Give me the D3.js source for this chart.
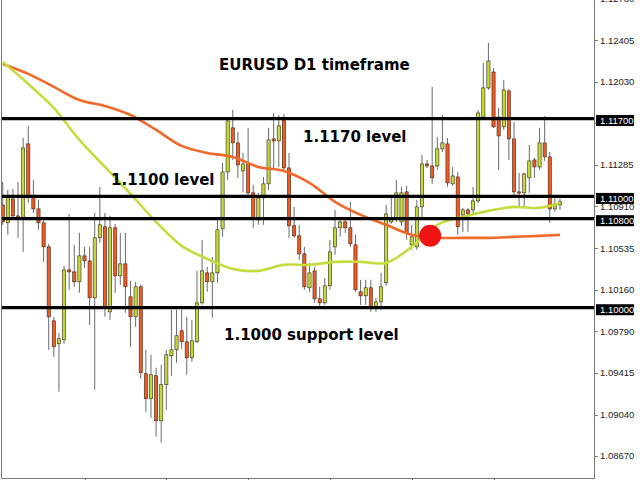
<!DOCTYPE html>
<html><head><meta charset="utf-8">
<script src="https://cdn.jsdelivr.net/npm/d3@7"></script>
<style>html,body{margin:0;padding:0;background:#fff;overflow:hidden}</style>
</head><body>
<svg id="c" width="640" height="480"></svg>
<script>
const openP = [
1.10924,1.10763,1.10978,1.10825,1.10798,1.11472,1.10996,1.10888,1.10763,1.10547,
1.09882,1.09676,1.09712,1.10340,1.10322,1.10233,1.10466,1.10421,1.10089,1.10628,
1.10727,1.09963,1.10718,1.10286,1.10394,1.10098,1.09918,1.10188,1.09407,1.09182,
1.09389,1.08984,1.09308,1.09568,1.09622,1.09793,1.09694,1.09550,1.09694,1.10044,
1.10313,1.10233,1.10313,1.10709,1.11220,1.11616,1.11481,1.11229,1.11292,1.11032,
1.10789,1.10987,1.11113,1.11517,1.11499,1.11687,1.11256,1.10736,1.10646,1.10484,
1.10179,1.10331,1.10080,1.10044,1.10197,1.10547,1.10718,1.10771,1.10718,1.10565,
1.10143,1.10107,1.10179,1.10008,1.10053,1.10224,1.10771,1.10807,1.10771,1.11041,
1.10565,1.10547,1.10906,1.11292,1.11274,1.11274,1.11427,1.11472,1.11113,1.11175,
1.10834,1.10879,1.10879,1.10960,1.11714,1.11975,1.12118,1.11714,1.11625,1.11948,
1.11517,1.11041,1.11032,1.11167,1.11328,1.11265,1.11481,1.11355,1.10888,1.10924];
const highP = [
1.11131,1.11059,1.11068,1.11131,1.11526,1.11634,1.11149,1.10969,1.10789,1.10574,
1.09918,1.09775,1.10376,1.10843,1.10565,1.10673,1.10547,1.10547,1.10852,1.11086,
1.10852,1.10825,1.10754,1.10673,1.10673,1.10242,1.10233,1.10206,1.09622,1.09577,
1.09460,1.09487,1.09622,1.09981,1.09981,1.09981,1.09918,1.09891,1.10331,1.10610,
1.10367,1.10457,1.10789,1.11301,1.11687,1.11777,1.11580,1.11391,1.11616,1.11104,
1.11032,1.11175,1.11616,1.11750,1.11732,1.11741,1.11391,1.10906,1.10745,1.10547,
1.10403,1.10367,1.10188,1.10269,1.10610,1.10879,1.10807,1.10807,1.10951,1.10655,
1.10251,1.10251,1.10251,1.10089,1.10313,1.10924,1.11014,1.11149,1.11086,1.11095,
1.10745,1.10969,1.11373,1.11328,1.11984,1.11535,1.11732,1.11526,1.11265,1.11220,
1.10897,1.10897,1.11086,1.11777,1.12199,1.12379,1.12154,1.11795,1.12047,1.11966,
1.11669,1.11211,1.11211,1.11463,1.11346,1.11616,1.11723,1.11400,1.10996,1.10978];
const lowP = [
1.10745,1.10655,1.10798,1.10628,1.10502,1.10942,1.10852,1.10700,1.10412,1.09622,
1.09559,1.09245,1.09676,1.10161,1.10188,1.10134,1.10358,1.09846,1.09263,1.10583,
1.09918,1.09891,1.10134,1.10206,1.09954,1.09649,1.09828,1.09362,1.09065,1.09011,
1.08841,1.08787,1.09083,1.09389,1.09505,1.09631,1.09398,1.09514,1.09685,1.10026,
1.10143,1.09909,1.10224,1.10637,1.11149,1.11328,1.11167,1.11041,1.10987,1.10718,
1.10745,1.10745,1.11059,1.11238,1.11265,1.11220,1.10628,1.10628,1.10430,1.10161,
1.10143,1.10044,1.09990,1.10026,1.10161,1.10475,1.10637,1.10673,1.10547,1.10143,
1.10026,1.10026,1.09963,1.09963,1.09981,1.10197,1.10754,1.10771,1.10736,1.10610,
1.10520,1.10520,1.10816,1.11256,1.11113,1.11238,1.11400,1.11086,1.11095,1.10655,
1.10682,1.10682,1.10834,1.10942,1.11687,1.11957,1.11616,1.11238,1.11598,1.11328,
1.11014,1.10906,1.10906,1.11032,1.11167,1.11238,1.11319,1.10763,1.10861,1.10879];
const closeP = [
1.10771,1.10996,1.10825,1.10807,1.11436,1.10996,1.10888,1.10763,1.10547,1.09918,
1.09649,1.09721,1.10340,1.10322,1.10233,1.10466,1.10421,1.10089,1.10628,1.10745,
1.09999,1.10718,1.10286,1.10394,1.10188,1.09918,1.10188,1.09416,1.09182,1.09398,
1.08984,1.09308,1.09577,1.09622,1.09748,1.09694,1.09550,1.09703,1.10044,1.10331,
1.10233,1.10313,1.10700,1.11220,1.11678,1.11481,1.11283,1.11292,1.11032,1.10807,
1.10987,1.11113,1.11508,1.11499,1.11634,1.11256,1.10736,1.10646,1.10484,1.10188,
1.10313,1.10080,1.10044,1.10197,1.10502,1.10718,1.10771,1.10718,1.10574,1.10161,
1.10107,1.10179,1.10008,1.10053,1.10188,1.10843,1.10807,1.11032,1.11032,1.10673,
1.10637,1.10906,1.11292,1.11274,1.11167,1.11427,1.11481,1.11122,1.11184,1.10727,
1.10879,1.10843,1.10960,1.11750,1.11975,1.12217,1.11625,1.11544,1.11957,1.11517,
1.11041,1.11032,1.11202,1.11319,1.11265,1.11481,1.11355,1.10888,1.10933,1.10951];

const maIndex = [0,5,10,15,20,25,30,35,40,45,50,55,60,65,70,75,80,85,90,95,100,105,109];
const maSlow = [1.12190,1.12101,1.11984,1.11867,1.11813,1.11732,1.11598,1.11454,1.11391,1.11355,1.11265,1.11229,1.11122,1.10951,1.10834,1.10745,1.10655,1.10628,1.10628,1.10628,1.10637,1.10646,1.10655];
const maFast = [1.12208,1.12011,1.11795,1.11508,1.11265,1.11023,1.10771,1.10556,1.10439,1.10349,1.10331,1.10385,1.10385,1.10412,1.10412,1.10403,1.10547,1.10745,1.10816,1.10870,1.10906,1.10897,1.10942];

const levels = [1.11700, 1.11000, 1.10800, 1.10000];
const tickValues = [1.08670,1.09040,1.09415,1.09790,1.10160,1.10535,1.10910,1.11285,1.11660,1.12030,1.12405,1.12780];
const tickLabels = ["1.08670","1.09040","1.09415","1.09790","1.10160","1.10535","1.10910","1.11285","1.11660","1.12030","1.12405","1.12780"];
const timeTicks = [16,32,48,64,80,96];
const crossIndex = [83.6];
const crossPrice = [1.10646];
const notes = ["EURUSD D1 timeframe","1.1170 level","1.1100 level","1.1000 support level"];

const svg = d3.select('#c');
const L = 2, R = 594, T = 0, B = 478;
const x = d3.scaleLinear().domain([0, 109]).range([2.7, 560]);
const y = d3.scaleLinear().domain([1.08470, 1.12765]).range([B, T]);

svg.append('rect').attr('width',640).attr('height',480).attr('fill','#fff');
svg.append('defs').append('clipPath').attr('id','clip')
  .append('rect').attr('x',L).attr('y',T).attr('width',R-L).attr('height',B-T);
const pg = svg.append('g').attr('clip-path','url(#clip)');

const candles = openP.map((o,i)=>({i,o,h:highP[i],l:lowP[i],c:closeP[i]}));
const GREEN = '#c2d93a', ORANGE = '#f05a22';

pg.selectAll('line.wick').data(candles).join('line').attr('class','wick')
  .attr('x1',d=>x(d.i)).attr('x2',d=>x(d.i))
  .attr('y1',d=>y(d.h)).attr('y2',d=>y(d.l))
  .attr('stroke','#6a6a6a').attr('stroke-width',1);

pg.selectAll('rect.body').data(candles).join('rect').attr('class','body')
  .attr('x',d=>x(d.i)-1.6).attr('width',3.2)
  .attr('y',d=>y(Math.max(d.o,d.c)))
  .attr('height',d=>Math.max(1.2, Math.abs(y(d.o)-y(d.c))))
  .attr('fill',d=>d.c>=d.o?GREEN:ORANGE)
  .attr('stroke','#3b2a1c').attr('stroke-width',0.6);

const line = d3.line().x(d=>x(d[0])).y(d=>y(d[1])).curve(d3.curveCatmullRom.alpha(0.5));
pg.append('path').datum(maIndex.map((k,j)=>[k,maSlow[j]]))
  .attr('d',line).attr('fill','none').attr('stroke','#f06a2a').attr('stroke-width',2.6);
pg.append('path').datum(maIndex.map((k,j)=>[k,maFast[j]]))
  .attr('d',line).attr('fill','none').attr('stroke','#c6dc3e').attr('stroke-width',2.6);

pg.selectAll('line.level').data(levels).join('line').attr('class','level')
  .attr('x1',L).attr('x2',R).attr('y1',d=>y(d)).attr('y2',d=>y(d))
  .attr('stroke','#000').attr('stroke-width',3.2);

pg.selectAll('circle.cross').data(crossIndex).join('circle').attr('class','cross')
  .attr('cx',d=>x(d)).attr('cy',(d,i)=>y(crossPrice[i])).attr('r',11)
  .attr('fill','#f01414');

// annotations
const noteX = [219, 303, 111, 224], noteY = [70, 141.5, 185, 340];
svg.selectAll('text.note').data(notes).join('text').attr('class','note')
  .attr('x',(d,i)=>noteX[i]).attr('y',(d,i)=>noteY[i])
  .attr('font-family','DejaVu Sans, Verdana, sans-serif').attr('font-weight','bold')
  .attr('font-size',15).attr('fill','#000').text(d=>d);

// frame
svg.append('line').attr('x1',L-0.5).attr('x2',L-0.5).attr('y1',T).attr('y2',B+0.5).attr('stroke','#777');
svg.append('line').attr('x1',L-0.5).attr('x2',R+0.5).attr('y1',B+0.5).attr('y2',B+0.5).attr('stroke','#777');
svg.append('line').attr('x1',R+0.5).attr('x2',R+0.5).attr('y1',T).attr('y2',B+0.5).attr('stroke','#777');

// bottom ticks
svg.selectAll('line.tt').data(timeTicks).join('line').attr('class','tt')
  .attr('x1',d=>Math.round(x(d))+0.5).attr('x2',d=>Math.round(x(d))+0.5)
  .attr('y1',B).attr('y2',B+3).attr('stroke','#777');

// right axis
const ax = svg.append('g');
ax.selectAll('line.yt').data(tickValues).join('line').attr('class','yt')
  .attr('x1',R).attr('x2',R+4).attr('y1',d=>Math.round(y(d))+0.5).attr('y2',d=>Math.round(y(d))+0.5)
  .attr('stroke','#777');
ax.selectAll('text.yl').data(tickValues).join('text').attr('class','yl')
  .attr('x',R+6).attr('y',d=>y(d)+3.5)
  .attr('font-family','Liberation Sans, Arial, sans-serif').attr('font-size',9.5)
  .attr('fill','#222').text((d,i)=>tickLabels[i]);

// level price boxes
const lb = svg.append('g');
lb.selectAll('rect').data(levels).join('rect')
  .attr('x',R+2).attr('y',d=>y(d)-3.5).attr('width',38).attr('height',11).attr('fill','#000');
lb.selectAll('text').data(levels).join('text')
  .attr('x',R+6).attr('y',d=>y(d)+5.5)
  .attr('font-family','Liberation Sans, Arial, sans-serif').attr('font-size',9.5)
  .attr('fill','#fff').text(d=>d.toFixed(5));
</script>
</body></html>
